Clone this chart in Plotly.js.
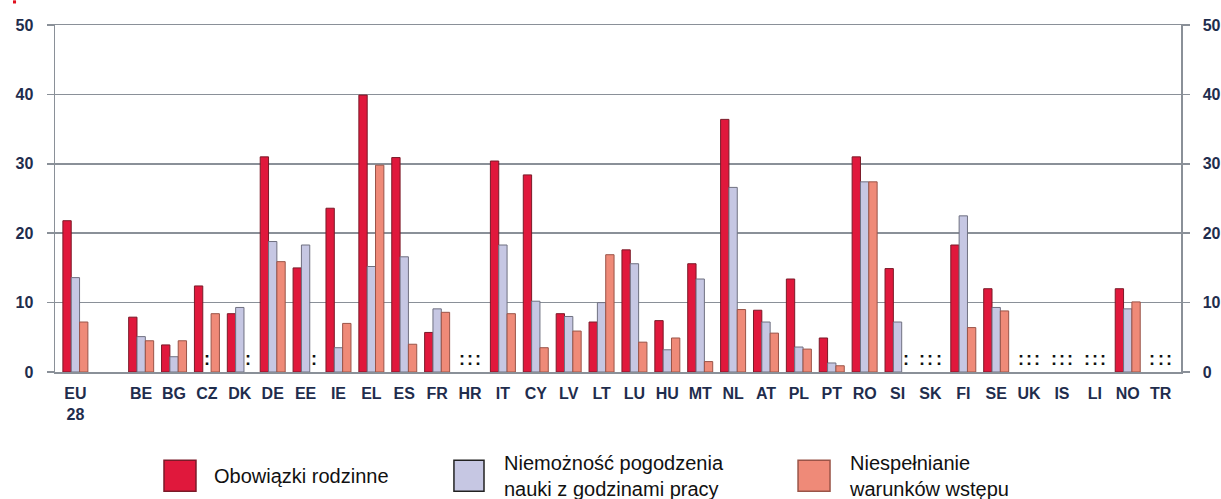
<!DOCTYPE html>
<html>
<head>
<meta charset="utf-8">
<script src="https://cdn.plot.ly/plotly-3.0.1.min.js"></script>
<style>html,body{margin:0;padding:0;background:#fff;}#chart{width:1221px;height:499px;}</style>
</head>
<body>
<div id="chart"></div>
<script>
// Categories (a blank slot separates EU-28 from the countries)
const categories = ["EU<br>28", " ", "BE", "BG", "CZ", "DK", "DE", "EE", "IE", "EL", "ES", "FR", "HR", "IT", "CY", "LV", "LT", "LU", "HU", "MT", "NL", "AT", "PL", "PT", "RO", "SI", "SK", "FI", "SE", "UK", "IS", "LI", "NO", "TR"];

// Series values (null = data not available, shown as ":")
const obowiazkiRodzinne = [21.8, null, 7.9, 3.9, 12.4, 8.4, 31.0, 15.0, 23.6, 39.9, 30.9, 5.7, null, 30.4, 28.4, 8.4, 7.2, 17.6, 7.4, 15.6, 36.4, 8.9, 13.4, 4.9, 31.0, 14.9, null, 18.3, 12.0, null, null, null, 12.0, null];
const niemoznoscPogodzenia = [13.6, null, 5.1, 2.2, null, 9.3, 18.8, 18.3, 3.5, 15.2, 16.6, 9.1, null, 18.3, 10.2, 8.0, 10.0, 15.6, 3.2, 13.4, 26.6, 7.2, 3.6, 1.3, 27.4, 7.2, null, 22.5, 9.3, null, null, null, 9.1, null];
const niespelnianieWarunkow = [7.2, null, 4.5, 4.5, 8.4, null, 15.9, null, 7.0, 29.8, 4.0, 8.6, null, 8.4, 3.5, 5.9, 16.9, 4.3, 4.9, 1.5, 9.0, 5.6, 3.3, 0.9, 27.4, null, null, 6.4, 8.8, null, null, null, 10.1, null];

const seriesNames = [
  ["Obowiązki rodzinne"],
  ["Niemożność pogodzenia", "nauki z godzinami pracy"],
  ["Niespełnianie", "warunków wstępu"]
];
const seriesValues = [obowiazkiRodzinne, niemoznoscPogodzenia, niespelnianieWarunkow];

const yTicks = [0, 10, 20, 30, 40, 50];

// Styles
const fillColors = ["#e0183c", "#c6c7e3", "#ef8a78"];
const lineColors = ["#7a1a28", "#6f7080", "#9a5448"];
const axisColor = "#8a9098";
const labelColor = "#1f2d4d";
const FONT = "Liberation Sans, Arial, sans-serif";

const traces = seriesValues.map((vals, s) => ({
  type: "bar",
  x: categories,
  y: vals,
  name: seriesNames[s].join(" "),
  marker: { color: fillColors[s], line: { color: lineColors[s], width: 1 } },
  showlegend: false,
  hoverinfo: "x+y+name"
}));
// dummy trace to show the right-hand axis
traces.push({ type: "scatter", x: [], y: [], yaxis: "y2", showlegend: false, hoverinfo: "skip" });

// ":" markers for missing data, placed at the missing bar position of each series
const barStepPx = 8.33;
const annotations = [];
seriesValues.forEach((vals, s) => {
  vals.forEach((v, i) => {
    if (v === null && categories[i].trim() !== "") {
      annotations.push({
        x: categories[i], y: 0, xref: "x", yref: "y",
        yanchor: "bottom", yshift: 1,
        xshift: (s - 1) * barStepPx,
        text: ":", showarrow: false,
        font: { family: FONT, size: 18, color: "#111", weight: "bold" }
      });
    }
  });
});

// Custom legend (large swatches, as in the reference)
const legendBoxes = [[0.0968, 0.1252], [0.3543, 0.3810], [0.6599, 0.6883]];
const legendTextX = [0.1394, 0.3970, 0.7031];
const shapes = [];
seriesNames.forEach((lines, s) => {
  shapes.push({
    type: "rect", xref: "paper", yref: "paper",
    x0: legendBoxes[s][0], x1: legendBoxes[s][1], y0: -0.3436, y1: -0.2543,
    fillcolor: fillColors[s], line: { color: s === 1 ? "#222" : lineColors[s], width: 1.5 }
  });
  annotations.push({
    xref: "paper", yref: "paper", x: legendTextX[s], y: -0.2990,
    xanchor: "left", yanchor: "middle", align: "left",
    text: lines.join("<br>"), showarrow: false,
    font: { family: FONT, size: 20, color: "#111" }
  });
});
// small red corner mark
shapes.push({ type: "rect", xref: "paper", yref: "paper", x0: -0.0373, x1: -0.0346, y0: 1.062, y1: 1.071, fillcolor: "#e0101e", line: { width: 0 } });

const yAxisCommon = {
  range: [0, 50], tickvals: yTicks, ticktext: yTicks.map(String),
  showline: true, linecolor: axisColor, linewidth: 1.5,
  ticks: "outside", ticklen: 7, tickcolor: axisColor, tickwidth: 1.5,
  tickfont: { family: FONT, size: 16, color: labelColor, weight: "bold" },
  ticklabelstandoff: 10, fixedrange: true
};

const layout = {
  width: 1221, height: 499,
  margin: { l: 55, r: 40, t: 24.5, b: 127.3, pad: 0 },
  paper_bgcolor: "#fff", plot_bgcolor: "#fff",
  barmode: "group", bargap: 0.24, bargroupgap: 0,
  font: { family: FONT },
  xaxis: {
    type: "category", categoryorder: "array", categoryarray: categories,
    range: [-0.62, 33.62],
    showline: true, mirror: true, linecolor: axisColor, linewidth: 1.5,
    ticks: "", showgrid: false,
    tickfont: { family: FONT, size: 16, color: labelColor, weight: "bold" },
    ticklabelstandoff: 6, fixedrange: true
  },
  yaxis: Object.assign({}, yAxisCommon, {
    showgrid: true, gridcolor: axisColor, gridwidth: 1.5, zeroline: false
  }),
  yaxis2: Object.assign({}, yAxisCommon, {
    overlaying: "y", side: "right", showgrid: false, zeroline: false
  }),
  shapes: shapes,
  annotations: annotations
};

Plotly.newPlot("chart", traces, layout, { displayModeBar: false, staticPlot: true });
</script>
</body>
</html>
